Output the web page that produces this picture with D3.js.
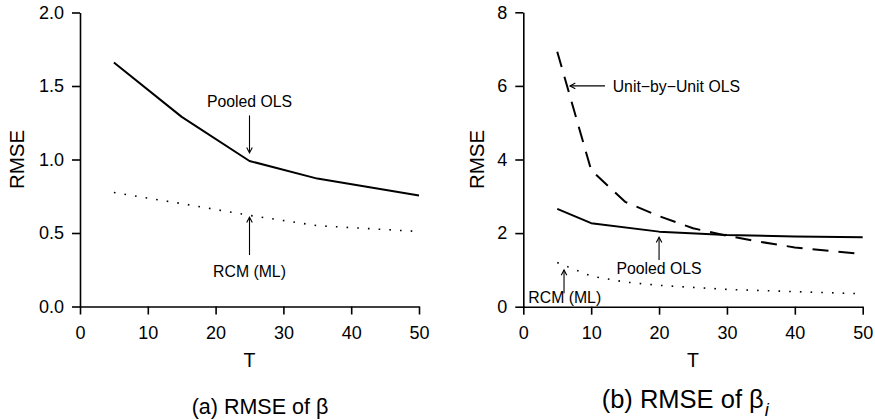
<!DOCTYPE html>
<html>
<head>
<meta charset="utf-8">
<script src="https://cdn.jsdelivr.net/npm/d3@7"></script>
<style>
  html, body { margin: 0; padding: 0; background: #fff; }
  svg { display: block; font-family: "Liberation Sans", Arial, Helvetica, sans-serif; }
</style>
</head>
<body>
<svg id="chart" width="875" height="420"></svg>
<script>
// ---- Data ----
// Panel (a): RMSE of beta
const aPooledT   = [5, 15, 25, 35, 50];
const aPooledVal = [1.66, 1.29, 0.99, 0.87, 0.755];
const aRcmT      = [5, 15, 25, 35, 50];
const aRcmVal    = [0.775, 0.70, 0.62, 0.55, 0.51];
const aYTicks    = [0, 0.5, 1.0, 1.5, 2.0];

// Panel (b): RMSE of beta_i
const bUnitT     = [5, 10, 15, 20, 25, 30, 35, 40, 45, 50];
const bUnitVal   = [6.93, 3.71, 2.85, 2.46, 2.13, 1.93, 1.76, 1.61, 1.52, 1.43];
const bPooledT   = [5, 10, 20, 30, 40, 50];
const bPooledVal = [2.66, 2.27, 2.04, 1.95, 1.91, 1.89];
const bRcmT      = [5, 10, 15, 20, 30, 40, 50];
const bRcmVal    = [1.20, 0.83, 0.67, 0.58, 0.47, 0.41, 0.35];
const bYTicks    = [0, 2, 4, 6, 8];

const xTicks = [0, 10, 20, 30, 40, 50];

const svg = d3.select("#chart");

function zip(ts, vs) { return ts.map((t, i) => ({t: t, v: vs[i]})); }

function drawPanel(opt) {
  const x = d3.scaleLinear().domain([0, 50]).range(opt.xRange);
  const y = d3.scaleLinear().domain(opt.yDomain).range(opt.yRange);
  const g = svg.append("g");

  // axes
  const yAxis = d3.axisLeft(y).tickValues(opt.yTicks).tickFormat(opt.yFormat)
    .tickSize(8).tickSizeOuter(0).tickPadding(8);
  const xAxis = d3.axisBottom(x).tickValues(xTicks).tickFormat(d3.format("d"))
    .tickSize(8).tickSizeOuter(0).tickPadding(12);

  const ya = g.append("g").attr("transform", `translate(${opt.xRange[0]},0)`).call(yAxis);
  const xa = g.append("g").attr("transform", `translate(0,${opt.yRange[0]})`).call(xAxis);
  [ya, xa].forEach(a => {
    a.selectAll("path, line").attr("stroke", "#000").attr("stroke-width", 1.6);
    a.selectAll("text").attr("fill", "#000").style("font-size", "18px")
      .style("font-family", "'Liberation Sans', Arial, sans-serif");
  });

  // axis titles
  const xMid = (opt.xRange[0] + opt.xRange[1]) / 2;
  g.append("text").attr("x", xMid).attr("y", 367.3).attr("text-anchor", "middle")
    .style("font-size", "19.5px").text("T");
  g.append("text")
    .attr("transform", `translate(${opt.rmseX},${(opt.yRange[0] + opt.yRange[1]) / 2}) rotate(-90)`)
    .attr("text-anchor", "middle").attr("dy", "0.36em")
    .style("font-size", "20.5px").text("RMSE");

  // series
  const line = d3.line().x(d => x(d.t)).y(d => y(d.v));
  opt.series.forEach(s => {
    g.append("path").datum(zip(s.t, s.v)).attr("d", line)
      .attr("fill", "none").attr("stroke", "#000")
      .attr("stroke-width", s.w)
      .attr("stroke-dasharray", s.dash || null)
      .attr("stroke-linejoin", "round");
  });

  // annotations
  opt.notes.forEach(n => {
    g.append("text").attr("x", x(n.tx)).attr("y", y(n.ty))
      .attr("text-anchor", n.anchor).style("font-size", "15.8px").text(n.label);
    const x1 = x(n.a[0]), y1 = y(n.a[1]), x2 = x(n.a[2]), y2 = y(n.a[3]);
    g.append("line").attr("x1", x1).attr("y1", y1).attr("x2", x2).attr("y2", y2)
      .attr("stroke", "#000").attr("stroke-width", 1.1);
    const ang = Math.atan2(y2 - y1, x2 - x1), L = 6, sp = Math.PI / 6.5;
    const p1 = [x2 - L * Math.cos(ang - sp), y2 - L * Math.sin(ang - sp)];
    const p2 = [x2 - L * Math.cos(ang + sp), y2 - L * Math.sin(ang + sp)];
    g.append("path").attr("d", `M${p1[0]},${p1[1]}L${x2},${y2}L${p2[0]},${p2[1]}`)
      .attr("fill", "none").attr("stroke", "#000").attr("stroke-width", 1.1);
  });

  // panel title
  const t = g.append("text").attr("x", opt.titleX).attr("y", opt.titleY)
    .style("font-size", opt.titleSize + "px");
  t.append("tspan").text(opt.title);
  if (opt.sub) {
    t.append("tspan").attr("dy", opt.titleSize * 0.3).attr("dx", 1)
      .style("font-size", (opt.titleSize * 0.72) + "px").style("font-style", "italic")
      .text(opt.sub);
  }
}

drawPanel({
  xRange: [80, 419], yDomain: [0, 2], yRange: [306.5, 12.5],
  yTicks: aYTicks, yFormat: d3.format(".1f"), rmseX: 16.7,
  series: [
    {t: aPooledT, v: aPooledVal, w: 2},
    {t: aRcmT, v: aRcmVal, w: 1.6, dash: "1.6,9.1"}
  ],
  notes: [
    {label: "Pooled OLS", tx: 25, ty: 1.355, anchor: "middle", a: [25, 1.30, 25, 1.045]},
    {label: "RCM (ML)", tx: 25, ty: 0.203, anchor: "middle", a: [25, 0.35, 25, 0.607]}
  ],
  title: "(a) RMSE of β", titleX: 191.7, titleY: 414, titleSize: 21.5
});

drawPanel({
  xRange: [523.3, 862.7], yDomain: [0, 8], yRange: [306.7, 12.3],
  yTicks: bYTicks, yFormat: d3.format("d"), rmseX: 476.7,
  series: [
    {t: bUnitT, v: bUnitVal, w: 2, dash: "16,10"},
    {t: bPooledT, v: bPooledVal, w: 2},
    {t: bRcmT, v: bRcmVal, w: 1.6, dash: "1.6,9.1"}
  ],
  notes: [
    {label: "Unit\u2212by\u2212Unit OLS", tx: 13.17, ty: 5.84, anchor: "start", a: [12.04, 6, 6.88, 6]},
    {label: "Pooled OLS", tx: 20, ty: 0.89, anchor: "middle", a: [20, 1.27, 20, 1.886]},
    {label: "RCM (ML)", tx: 0.74, ty: 0.11, anchor: "start", a: [6, 0.364, 6, 1.0]}
  ],
  title: "(b) RMSE of β", sub: "i", titleX: 601.7, titleY: 408.3, titleSize: 25.5
});
</script>
</body>
</html>
